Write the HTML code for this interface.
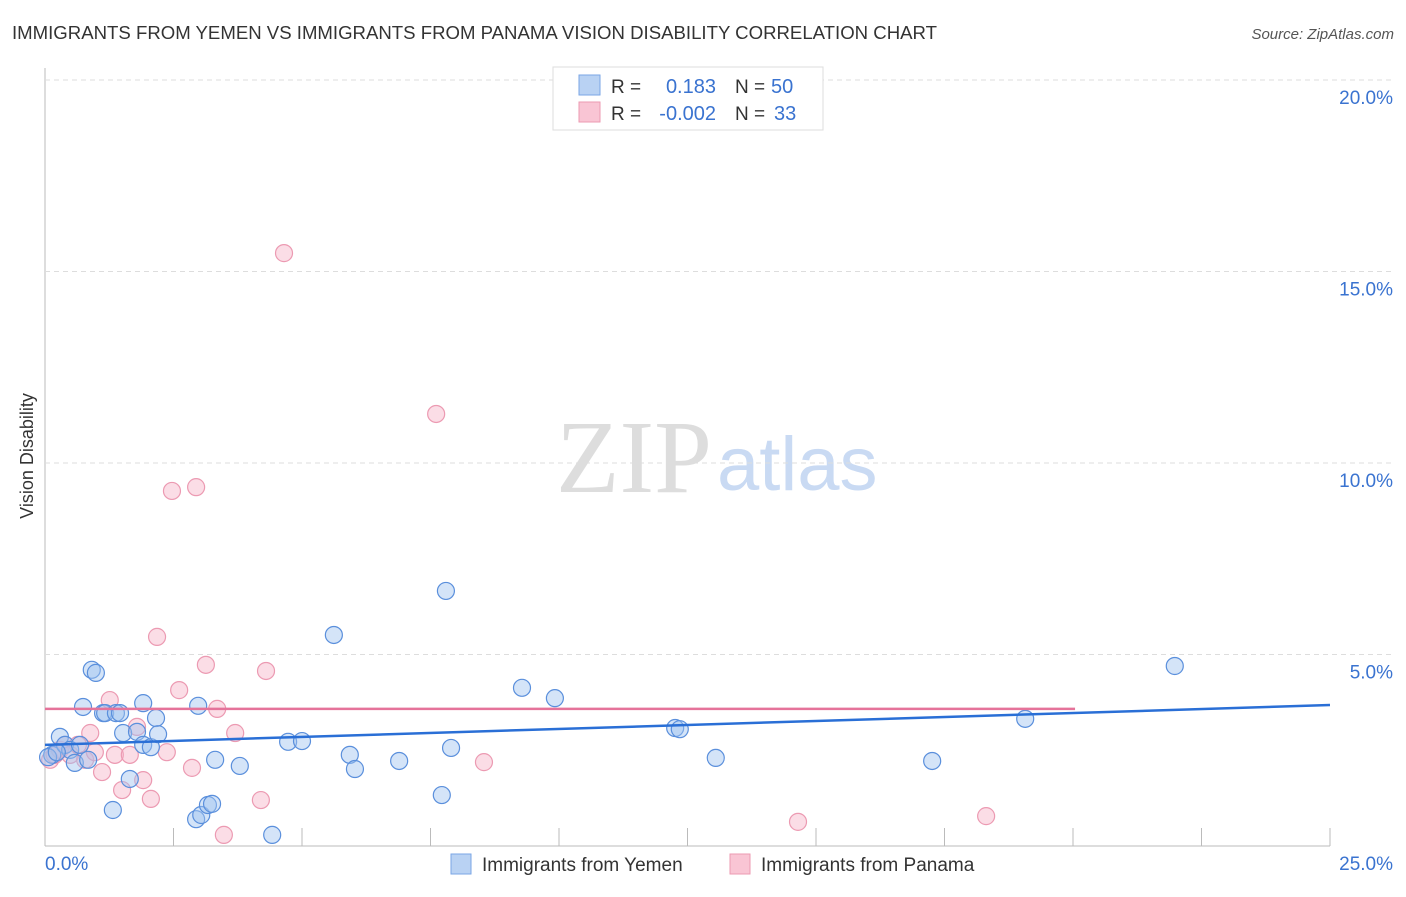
<!DOCTYPE html>
<html><head><meta charset="utf-8"><style>
body{margin:0;background:#fff;font-family:"Liberation Sans",sans-serif}
</style></head><body>
<svg width="1406" height="892" xmlns="http://www.w3.org/2000/svg">
<text x="12" y="39" font-size="18.6" fill="#333">IMMIGRANTS FROM YEMEN VS IMMIGRANTS FROM PANAMA VISION DISABILITY CORRELATION CHART</text>
<text x="1394" y="39" font-size="15" fill="#555" font-style="italic" text-anchor="end">Source: ZipAtlas.com</text>
<text x="33" y="456" font-size="18" fill="#333" text-anchor="middle" transform="rotate(-90 33 456)">Vision Disability</text>
<text x="712" y="492" font-size="104" fill="#ddd" font-family="Liberation Serif,serif" text-anchor="end">ZIP</text>
<text x="717" y="490" font-size="76" fill="#c9daf3">atlas</text>
<g id="grid"></g>
<g id="pts"></g>
<g>
<rect x="553" y="67" width="270" height="63" fill="#fff" stroke="#ddd"/>
<rect x="579" y="75" width="21" height="20" fill="#b9d2f3" stroke="#7aa6e6"/>
<rect x="579" y="102" width="21" height="20" fill="#f9c5d4" stroke="#ec9ab2"/>
<text x="611" y="93" font-size="19" fill="#333">R =</text>
<text x="716" y="93" font-size="20" fill="#3a73d0" text-anchor="end">0.183</text>
<text x="735" y="93" font-size="19" fill="#333">N =</text>
<text x="771" y="93" font-size="20" fill="#3a73d0">50</text>
<text x="611" y="120" font-size="19" fill="#333">R =</text>
<text x="716" y="120" font-size="20" fill="#3a73d0" text-anchor="end">-0.002</text>
<text x="735" y="120" font-size="19" fill="#333">N =</text>
<text x="774" y="120" font-size="20" fill="#3a73d0">33</text>
</g>
<g>
<rect x="451" y="854" width="20" height="20" fill="#b9d2f3" stroke="#7aa6e6"/>
<text x="482" y="871" font-size="19" fill="#333">Immigrants from Yemen</text>
<rect x="730" y="854" width="20" height="20" fill="#f9c5d4" stroke="#ec9ab2"/>
<text x="761" y="871" font-size="19" fill="#333">Immigrants from Panama</text>
</g>
</svg>
<script>
const xTicks=[0,25];
const yTicks=[5,10,15,20];
const yemenX=[0.14,0.29,0.39,0.49,0.58,0.68,0.74,0.84,0.91,0.99,1.13,1.17,1.32,1.38,1.46,1.52,1.65,1.79,1.91,1.91,2.06,2.16,2.20,2.94,2.98,3.04,3.17,3.25,3.31,3.79,4.42,4.73,5.00,5.62,5.93,6.03,6.89,7.72,7.80,7.90,9.28,9.92,12.26,12.35,13.05,17.26,19.07,21.98,0.06,0.23];
const yemenY=[2.38,2.85,2.64,2.51,2.17,2.64,3.63,2.25,4.60,4.52,3.47,3.47,0.94,3.47,3.47,2.95,1.75,2.98,3.73,2.64,2.58,3.34,2.92,0.70,3.66,0.81,1.07,1.10,2.25,2.09,0.29,2.72,2.74,5.51,2.38,2.01,2.22,1.33,6.66,2.56,4.13,3.86,3.08,3.05,2.30,2.22,3.32,4.70,2.32,2.45];
const panamaX=[0.10,0.19,0.29,0.39,0.49,0.64,0.78,0.88,0.97,1.11,1.26,1.36,1.50,1.65,1.79,1.91,2.06,2.18,2.37,2.47,2.61,2.86,2.94,3.13,3.35,3.48,3.70,4.20,4.30,4.65,7.61,8.54,14.65,18.31];
const panamaY=[2.25,2.38,2.51,2.64,2.38,2.64,2.25,2.95,2.45,1.93,3.81,2.38,1.46,2.38,3.11,1.72,1.23,5.46,2.45,9.27,4.07,2.04,9.37,4.73,3.58,0.29,2.95,1.20,4.57,15.48,11.28,2.19,0.63,0.78];
const yemenTrend=[2.64,3.68];
const panamaTrend=[3.58,3.58];
const NS="http://www.w3.org/2000/svg";
const X0=45,X1=1330,Y0=846,PY=38.3;
const sx=v=>X0+(v/25)*(X1-X0);
const sy=v=>Y0-v*PY;
const grid=document.getElementById('grid');
function mk(tag,attrs,parent){const e=document.createElementNS(NS,tag);for(const k in attrs)e.setAttribute(k,attrs[k]);parent.appendChild(e);return e;}
let ax=mk('line',{x1:X0,y1:68,x2:X0,y2:Y0,stroke:'#bbb'},grid);


let bx=mk('line',{x1:X0,y1:Y0,x2:X1,y2:Y0,stroke:'#bbb'},grid);


for(let i=1;i<=10;i++){const t=mk('line',{x1:X0+i*128.5,y1:828,x2:X0+i*128.5,y2:Y0,stroke:'#bbb'},grid);

}
yTicks.forEach(v=>{const g=mk('line',{x1:X0,y1:sy(v),x2:1394,y2:sy(v),stroke:'#ddd','stroke-dasharray':'5,4'},grid);


const t=mk('text',{x:1393,y:sy(v)+24,'font-size':19,fill:'#3a73d0','text-anchor':'end'},grid);t.textContent=v.toFixed(1)+'%';

});
xTicks.forEach((v,i)=>{const t=mk('text',{x:i?1393:45,y:870,'font-size':19,fill:'#3a73d0','text-anchor':i?'end':'start'},grid);t.textContent=v.toFixed(1)+'%';

});
const pts=document.getElementById('pts');
panamaX.forEach((x,i)=>{const c=mk('circle',{cx:sx(x),cy:sy(panamaY[i]),r:8.5,fill:'rgba(246,180,200,0.45)',stroke:'#ec9ab2','stroke-width':1.2},pts);

});
yemenX.forEach((x,i)=>{const c=mk('circle',{cx:sx(x),cy:sy(yemenY[i]),r:8.5,fill:'rgba(160,195,240,0.45)',stroke:'#5a8fdc','stroke-width':1.2},pts);

});
const pl=mk('line',{x1:sx(0),y1:sy(panamaTrend[0]),x2:sx(20.04),y2:sy(panamaTrend[1]),stroke:'#e5739a','stroke-width':2.5},pts);


const bl=mk('line',{x1:sx(0),y1:sy(yemenTrend[0]),x2:sx(25),y2:sy(yemenTrend[1]),stroke:'#2a6fd6','stroke-width':2.5},pts);


</script>
</body></html>
